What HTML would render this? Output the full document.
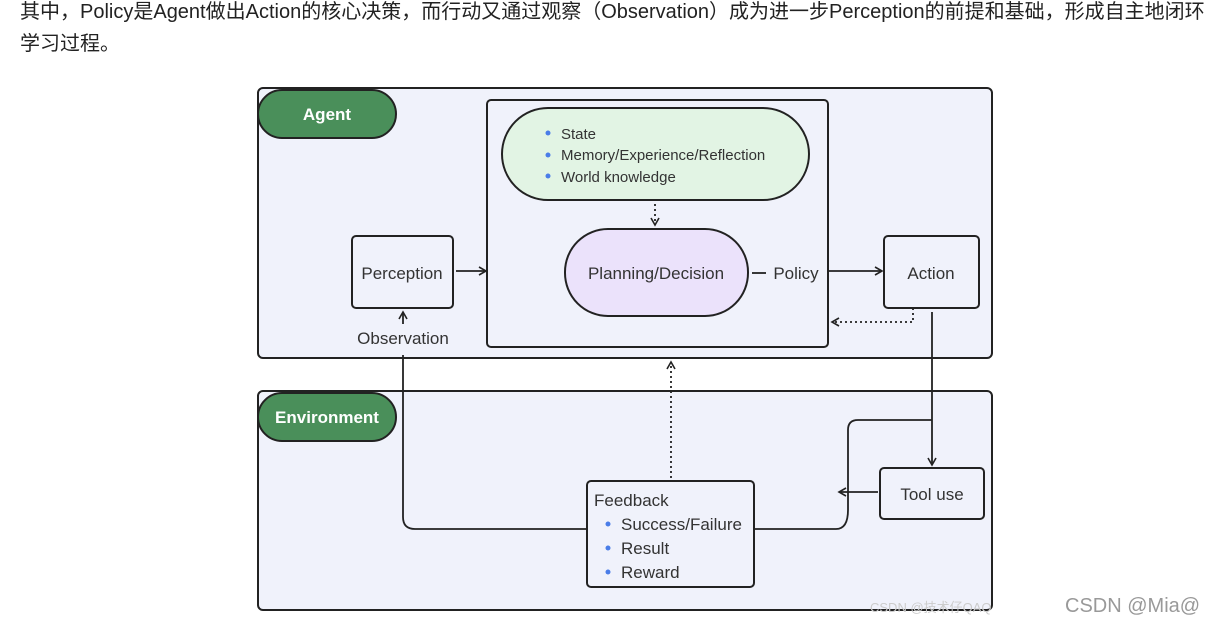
<!DOCTYPE html>
<html><head><meta charset="utf-8"><style>
html,body{margin:0;padding:0;background:#fff;width:1213px;height:624px;overflow:hidden}
.t{position:absolute;left:20px;top:-4px;width:1192px;font:20px/32px "Liberation Sans","Noto Sans CJK SC",sans-serif;color:#222}
svg{position:absolute;left:0;top:0}
</style></head><body>
<div class="t">其中，Policy是Agent做出Action的核心决策，而行动又通过观察（Observation）成为进一步Perception的前提和基础，形成自主地闭环学习过程。</div>
<svg width="1213" height="624" font-family="Liberation Sans, DejaVu Sans, sans-serif" font-size="16" fill="#333">
<defs>
<marker id="a" markerWidth="10" markerHeight="10" refX="8" refY="5" orient="auto" markerUnits="userSpaceOnUse"><path d="M1,1 L8,5 L1,9" fill="none" stroke="#222" stroke-width="1.6"/></marker>
</defs>
<g stroke="#222" stroke-width="2">
<rect x="258" y="88" width="734" height="270" rx="5" fill="#f0f2fb"/>
<rect x="258" y="391" width="734" height="219" rx="5" fill="#f0f2fb"/>
<rect x="258" y="90" width="138" height="48" rx="24" fill="#4a8f5a"/>
<rect x="258" y="393" width="138" height="48" rx="24" fill="#4a8f5a"/>
<rect x="487" y="100" width="341" height="247" rx="4" fill="#f0f2fb"/>
<rect x="502" y="108" width="307" height="92" rx="46" fill="#e2f4e4"/>
<rect x="565" y="229" width="183" height="87" rx="43" fill="#ebe2fb"/>
<rect x="352" y="236" width="101" height="72" rx="4" fill="#f0f2fb"/>
<rect x="884" y="236" width="95" height="72" rx="4" fill="#f0f2fb"/>
<rect x="880" y="468" width="104" height="51" rx="4" fill="#f0f2fb"/>
<rect x="587" y="481" width="167" height="106" rx="4" fill="#f0f2fb"/>
</g>
<g stroke="#222" stroke-width="1.8" fill="none">
<line x1="456" y1="271" x2="486" y2="271" marker-end="url(#a)"/>
<line x1="752" y1="273" x2="766" y2="273"/>
<line x1="828" y1="271" x2="882" y2="271" marker-end="url(#a)"/>
<line x1="655" y1="204" x2="655" y2="225" stroke-dasharray="2,3" marker-end="url(#a)"/>
<path d="M913,308 V322 H832" stroke-dasharray="2,3" marker-end="url(#a)"/>
<line x1="932" y1="312" x2="932" y2="465" marker-end="url(#a)"/>
<path d="M932,420 H858 Q848,420 848,430 V510 Q848,529 836,529 H754"/>
<line x1="878" y1="492" x2="839" y2="492" marker-end="url(#a)"/>
<path d="M587,529 H415 Q403,529 403,517 V355"/>
<line x1="403" y1="324" x2="403" y2="312" marker-end="url(#a)"/>
<line x1="671" y1="478" x2="671" y2="362" stroke-dasharray="2,3" marker-end="url(#a)"/>
</g>
<g font-size="17" font-weight="bold" fill="#fff" text-anchor="middle">
<text x="327" y="120">Agent</text>
<text x="327" y="423">Environment</text>
</g>
<g fill="#4a7de8"><circle cx="548" cy="133" r="2.5"/><circle cx="548" cy="155" r="2.5"/><circle cx="548" cy="176" r="2.5"/>
<circle cx="608" cy="524" r="2.5"/><circle cx="608" cy="548" r="2.5"/><circle cx="608" cy="572" r="2.5"/></g>
<g fill="#333" font-size="15">
<text x="561" y="139">State</text>
<text x="561" y="160">Memory/Experience/Reflection</text>
<text x="561" y="182">World knowledge</text>
</g>
<g font-size="17" fill="#333" text-anchor="middle">
<text x="656" y="279">Planning/Decision</text>
<text x="402" y="279">Perception</text>
<text x="931" y="279">Action</text>
<text x="796" y="279">Policy</text>
<text x="403" y="344">Observation</text>
<text x="932" y="500">Tool use</text>
</g>
<g font-size="17" fill="#333">
<text x="594" y="506">Feedback</text>
<text x="621" y="530">Success/Failure</text>
<text x="621" y="554">Result</text>
<text x="621" y="578">Reward</text>
</g>
<text x="1065" y="612" font-size="20" fill="#999">CSDN @Mia@</text>
<text x="870" y="612" font-size="13" fill="#ccc">CSDN @技术仔QAQ</text>
</svg>
</body></html>
